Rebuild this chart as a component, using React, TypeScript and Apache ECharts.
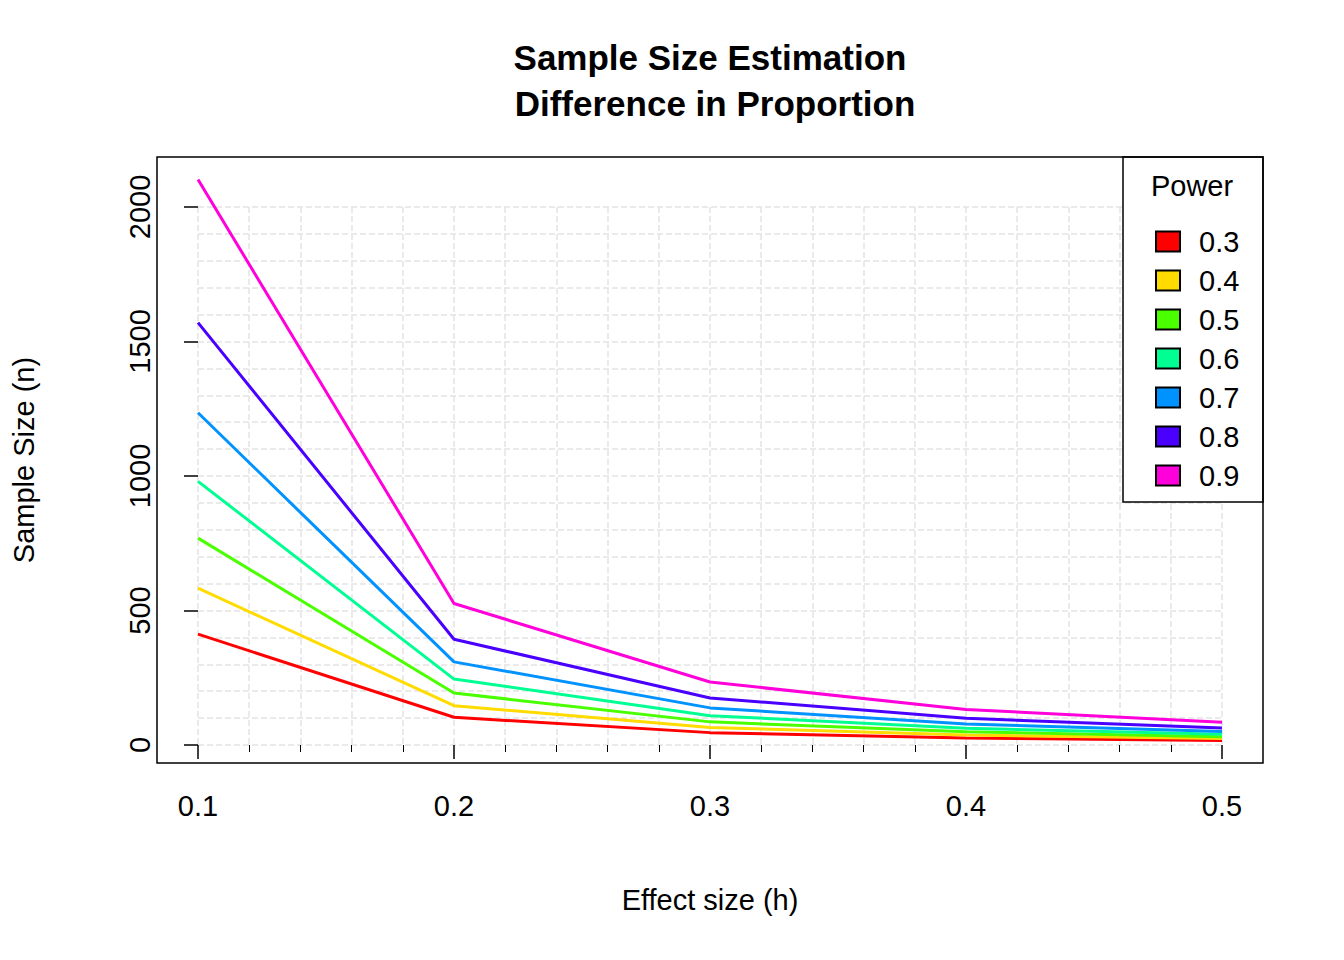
import React, { useEffect, useRef } from "react";
import * as echarts from "echarts";

const effectSizes = [0.1, 0.2, 0.3, 0.4, 0.5];
const powers = ["0.3", "0.4", "0.5", "0.6", "0.7", "0.8", "0.9"];
const colors = ["#FF0000", "#FFDB00", "#49FF00", "#00FF92", "#0092FF", "#4900FF", "#FF00DB"];
const n03 = [412, 103, 46, 26, 17];
const n04 = [583, 146, 65, 37, 24];
const n05 = [769, 193, 86, 49, 31];
const n06 = [980, 245, 109, 62, 40];
const n07 = [1235, 309, 138, 78, 50];
const n08 = [1570, 393, 175, 99, 63];
const n09 = [2102, 526, 234, 132, 85];
const allSeries = [n03, n04, n05, n06, n07, n08, n09];

const font = "Liberation Sans, Arial, sans-serif";

export default function App() {
  const ref = useRef<HTMLDivElement>(null);

  useEffect(() => {
    document.body.style.margin = "0";
    if (!ref.current) return;
    const chart = echarts.init(ref.current, undefined, { renderer: "svg" });
    const grid = "#E3E3E3";
    chart.setOption({
      animation: false,
      backgroundColor: "#fff",
      textStyle: { fontFamily: font },
      grid: { left: 198, right: 122, top: 207, bottom: 215 },
      xAxis: {
        type: "value",
        min: 0.1,
        max: 0.5,
        interval: 0.1,
        axisLine: { show: false },
        axisTick: { show: true, length: 14, lineStyle: { color: "#000", width: 1.5 } },
        minorTick: { show: true, splitNumber: 5, length: 7, lineStyle: { color: "#000" } },
        axisLabel: { color: "#000", fontSize: 29, margin: 46, fontFamily: font, formatter: (v: number) => v.toFixed(1) },
        splitLine: { lineStyle: { color: grid, type: "dashed", width: 1.5 } },
        minorSplitLine: { show: true, lineStyle: { color: grid, type: "dashed", width: 1.5 } },
      },
      yAxis: {
        type: "value",
        min: 0,
        max: 2000,
        interval: 500,
        axisLine: { show: false },
        axisTick: { show: true, length: 14, lineStyle: { color: "#000", width: 1.5 } },
        axisLabel: { color: "#000", fontSize: 29, rotate: 90, margin: 44, fontFamily: font, formatter: (v: number) => String(v) },
        splitLine: { lineStyle: { color: grid, type: "dashed", width: 1.5 } },
        minorSplitLine: { show: true, lineStyle: { color: grid, type: "dashed", width: 1.5 } },
        minorTick: { splitNumber: 5 },
      },
      legend: {
        orient: "vertical",
        left: 1150,
        top: 222,
        z: 100,
        itemWidth: 24,
        itemHeight: 20,
        itemGap: 10,
        icon: "rect",
        textStyle: { fontSize: 29, lineHeight: 28, color: "#000", padding: [0, 0, 0, 14], fontFamily: font },
        data: powers,
      },
      graphic: [
        { type: "rect", shape: { x: 157, y: 157, width: 1106, height: 606 }, style: { fill: "none", stroke: "#000", lineWidth: 1.5 }, z: 50 },
        { type: "rect", shape: { x: 1123, y: 157, width: 140, height: 345 }, style: { fill: "#fff", stroke: "#000", lineWidth: 1.5 }, z: 1 },
        { type: "text", x: 1192, y: 186, style: { text: "Power", font: `29px ${font}`, fill: "#000", align: "center", verticalAlign: "middle" }, z: 60 },
        { type: "text", x: 710, y: 57, style: { text: "Sample Size Estimation", font: `bold 35px ${font}`, fill: "#000", align: "center", verticalAlign: "middle" } },
        { type: "text", x: 715, y: 103, style: { text: "Difference in Proportion", font: `bold 35px ${font}`, fill: "#000", align: "center", verticalAlign: "middle" } },
        { type: "text", x: 710, y: 900, style: { text: "Effect size (h)", font: `29px ${font}`, fill: "#000", align: "center", verticalAlign: "middle" } },
        { type: "text", x: 24, y: 460, rotation: Math.PI / 2, style: { text: "Sample Size (n)", font: `29px ${font}`, fill: "#000", align: "center", verticalAlign: "middle" } },
      ],
      series: allSeries.map((vals, i) => ({
        name: powers[i],
        type: "line",
        clip: false,
        showSymbol: false,
        symbol: "rect",
        data: vals.map((v, j) => [effectSizes[j], v]),
        lineStyle: { color: colors[i], width: 3 },
        itemStyle: { color: colors[i], borderColor: "#000", borderWidth: 1.5 },
        z: 30,
      })),
    });
    return () => chart.dispose();
  }, []);

  return <div ref={ref} style={{ width: 1344, height: 960 }} />;
}
